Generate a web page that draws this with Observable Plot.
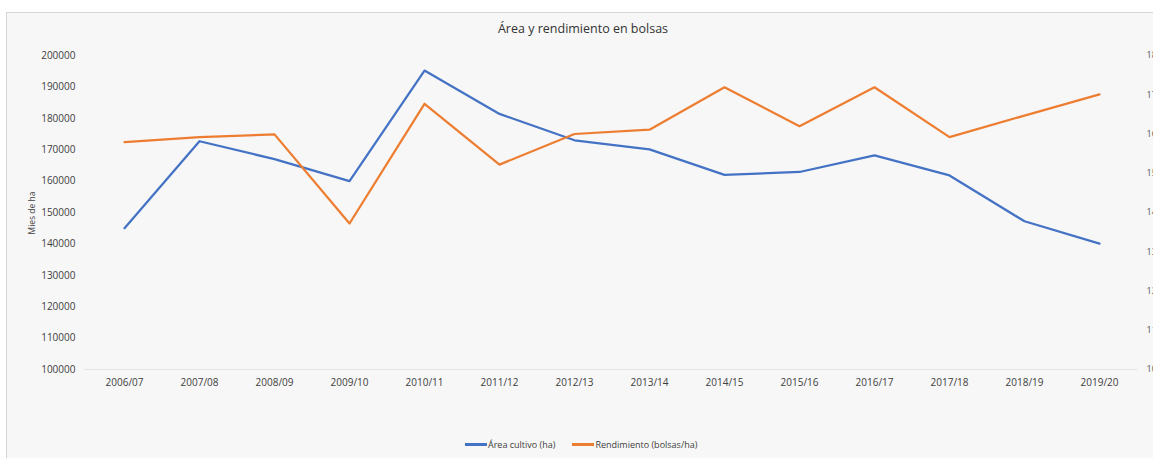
<!DOCTYPE html>
<html>
<head>
<meta charset="utf-8">
<script src="https://cdn.jsdelivr.net/npm/d3@7"></script>
<script src="https://cdn.jsdelivr.net/npm/@observablehq/plot@0.6"></script>
<style>
  html, body { margin: 0; padding: 0; background: #ffffff; overflow: hidden; width: 1153px; height: 458px; }
  #panel { position: absolute; left: 6px; top: 12px; width: 1147px; height: 446px; background: #f7f7f7; border-left: 1px solid #d6d6d6; border-top: 1px solid #d6d6d6; box-sizing: border-box; }
  #chart { position: absolute; left: 0; top: 0; }
  .t { position: absolute; font-family: "Open Sans", sans-serif; white-space: nowrap; }
  #title { left: 0; width: 1166px; top: 20px; text-align: center; font-size: 12.5px; color: #333; }
  #ytitle { left: 31px; top: 213px; font-size: 8.5px; color: #404040; transform: translate(-50%, -50%) rotate(-90deg); }
  #legend { left: 465px; top: 438px; font-size: 9px; color: #404040; display: flex; align-items: center; }
  .sw { display: inline-block; width: 22px; height: 2.5px; margin-right: 1px; }
</style>
</head>
<body>
<div id="panel"></div>
<div id="chart"></div>
<div class="t" id="title">Área y rendimiento en bolsas</div>
<div class="t" id="ytitle">Mies de ha</div>
<div class="t" id="legend"><span class="sw" style="background:#4472c4"></span><span>Área cultivo (ha)</span><span style="display:inline-block;width:17px"></span><span class="sw" style="background:#ed7d31"></span><span>Rendimiento (bolsas/ha)</span></div>
<script>
const seasons = ["2006/07","2007/08","2008/09","2009/10","2010/11","2011/12","2012/13","2013/14","2014/15","2015/16","2016/17","2017/18","2018/19","2019/20"];
const area = [145000,172700,167000,160000,195200,181400,173000,170100,162000,162900,168200,161800,147200,140100];
const rendimiento = [15.79,15.92,15.99,13.72,16.77,15.22,16.0,16.11,17.19,16.2,17.19,15.92,16.47,17.01];
const leftTicks = [100000,110000,120000,130000,140000,150000,160000,170000,180000,190000,200000];
const rightTicks = [10,11,12,13,14,15,16,17,18];

// map right-axis values (10..18) onto the left-axis domain (100000..200000)
const toLeft = v => 100000 + (v - 10) * 12500;

const areaData = seasons.map((s, i) => ({season: s, value: area[i]}));
const rendData = seasons.map((s, i) => ({season: s, value: toLeft(rendimiento[i])}));

const chart = Plot.plot({
  width: 1153,
  height: 458,
  marginLeft: 84.5,
  marginRight: 15.5,
  marginTop: 55,
  marginBottom: 89,
  style: {background: "transparent", fontFamily: "Open Sans, sans-serif", fontSize: "10px", color: "#404040", overflow: "visible"},
  x: {type: "point", domain: seasons, padding: 0.5},
  y: {domain: [100000, 200000]},
  marks: [
    Plot.ruleY([100000], {stroke: "#e3e3e3", strokeWidth: 1.2}),
    Plot.axisX({tickSize: 0, tickPadding: 9, label: null, fontSize: 10}),
    Plot.axisY({anchor: "left", ticks: leftTicks, tickSize: 0, tickPadding: 9.5, tickFormat: d => String(d), label: null, fontSize: 10}),
    Plot.axisY({anchor: "right", ticks: rightTicks.map(toLeft), tickSize: 0, tickPadding: 8.5, tickFormat: d => String(Math.round((d - 100000) / 12500 + 10)), label: null, fontSize: 9, fill: "#555"}),
    Plot.line(areaData, {x: "season", y: "value", stroke: "#4472c4", strokeWidth: 2.25}),
    Plot.line(rendData, {x: "season", y: "value", stroke: "#ed7d31", strokeWidth: 2.25})
  ]
});
document.getElementById("chart").appendChild(chart);
</script>
</body>
</html>
